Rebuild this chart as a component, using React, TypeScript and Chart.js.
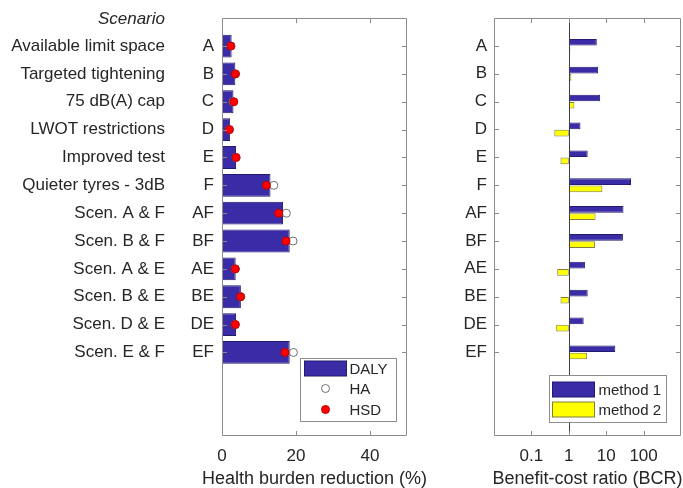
import React, { useEffect, useRef } from 'react';
import { Chart, registerables } from 'chart.js';

Chart.register(...registerables);

// ---------- data ----------
const codes = ['A', 'B', 'C', 'D', 'E', 'F', 'AF', 'BF', 'AE', 'BE', 'DE', 'EF'];
const names = [
  'Available limit space',
  'Targeted tightening',
  '75 dB(A) cap',
  'LWOT restrictions',
  'Improved test',
  'Quieter tyres - 3dB',
  'Scen. A & F',
  'Scen. B & F',
  'Scen. A & E',
  'Scen. B & E',
  'Scen. D & E',
  'Scen. E & F',
];
const headerLabel = 'Scenario';
const daly = [2.6, 3.6, 3.1, 2.2, 3.8, 13.1, 16.5, 18.3, 3.7, 5.1, 3.8, 18.3];
const ha = [2.4, 3.7, 3.0, 2.0, 3.8, 14.0, 17.4, 19.2, 3.6, 5.1, 3.6, 19.3];
const hsd = [2.4, 3.6, 3.2, 2.0, 3.8, 12.0, 15.3, 17.3, 3.6, 5.0, 3.6, 17.0];
const bcrMethod1 = [5.6, 6.1, 6.9, 2.05, 3.2, 46, 29, 28, 2.7, 3.2, 2.5, 17.5];
const bcrMethod2 = [1.1, 1.17, 1.41, 0.41, 0.6, 7.9, 5.2, 5.0, 0.49, 0.6, 0.46, 3.1];
const healthTicks = [0, 20, 40];
const bcrTicks = [0.1, 1, 10, 100];
const healthLabels = ['DALY', 'HA', 'HSD'];
const bcrLabels = ['method 1', 'method 2'];
const healthTitle = 'Health burden reduction (%)';
const bcrTitle = 'Benefit-cost ratio (BCR)';

// ---------- styles ----------
const FAMILY = '"Liberation Sans", Arial, Helvetica, sans-serif';
const TEXT = '#262626';
const AXIS = '#8c8c8c';
const BLUE = '#3a2ba6';
const BLUE_EDGE = '#241a6e';
const YELLOW = '#ffff00';
const YELLOW_EDGE = '#80803a';
const TICK_FONT = 17;
const TITLE_FONT = 18;
const LEGEND_FONT = 15;

const font = (size: number, style = '') => `${style} ${size}px ${FAMILY}`.trim();

function drawBoxAndTicks(chart: any) {
  const { ctx, chartArea: ca, scales } = chart;
  const xs = scales.x;
  const ys = scales.y;
  const tl = 5;
  ctx.save();
  ctx.strokeStyle = AXIS;
  ctx.lineWidth = 1;
  ctx.beginPath();
  ctx.rect(Math.round(ca.left) + 0.5, Math.round(ca.top) + 0.5, Math.round(ca.right - ca.left) - 1, Math.round(ca.bottom - ca.top) - 1);
  for (const t of xs.ticks) {
    const px = Math.round(xs.getPixelForValue(t.value)) + 0.5;
    if (px <= ca.left + 2 || px >= ca.right - 2) continue;
    ctx.moveTo(px, ca.bottom);
    ctx.lineTo(px, ca.bottom - tl);
    ctx.moveTo(px, ca.top);
    ctx.lineTo(px, ca.top + tl);
  }
  for (const t of ys.ticks) {
    const py = Math.round(ys.getPixelForValue(t.value)) + 0.5;
    ctx.moveTo(ca.left, py);
    ctx.lineTo(ca.left + tl, py);
    ctx.moveTo(ca.right, py);
    ctx.lineTo(ca.right - tl, py);
  }
  ctx.stroke();
  ctx.restore();
}

const boxPlugin = {
  id: 'matlabBox',
  afterDatasetsDraw(chart: any) {
    const ref = chart.options.plugins.matlabBox || {};
    const { ctx, chartArea: ca, scales } = chart;
    if (ref.unityLine) {
      const px = Math.round(scales.x.getPixelForValue(1)) + 0.5;
      ctx.save();
      ctx.strokeStyle = '#404040';
      ctx.lineWidth = 1;
      ctx.beginPath();
      ctx.moveTo(px, ca.top);
      ctx.lineTo(px, ca.bottom);
      ctx.stroke();
      ctx.restore();
    }
    drawBoxAndTicks(chart);
  },
  afterDraw(chart: any) {
    const ref = chart.options.plugins.matlabBox || {};
    if (!ref.title) return;
    const { ctx, chartArea: ca } = chart;
    ctx.save();
    ctx.fillStyle = TEXT;
    ctx.font = font(TITLE_FONT);
    ctx.textAlign = 'center';
    ctx.textBaseline = 'middle';
    ctx.fillText(ref.title, (ca.left + ca.right) / 2, ca.bottom + ref.titleOffset);
    ctx.restore();
  },
};

const namesPlugin = {
  id: 'scenarioNames',
  afterDraw(chart: any) {
    const opts = chart.options.plugins.scenarioNames;
    if (!opts || !opts.enabled) return;
    const { ctx, scales } = chart;
    const ys = scales.y;
    ctx.save();
    ctx.fillStyle = TEXT;
    ctx.textAlign = 'right';
    ctx.textBaseline = 'middle';
    ctx.font = font(TICK_FONT, 'italic');
    ctx.fillText(headerLabel, opts.x, ys.getPixelForValue(0) + 1);
    ctx.font = font(TICK_FONT);
    names.forEach((n, i) => {
      ctx.fillText(n, opts.x, ys.getPixelForValue(i + 1));
    });
    ctx.restore();
  },
};

const legendPlugin = {
  id: 'boxLegend',
  afterDraw(chart: any) {
    const opts = chart.options.plugins.boxLegend;
    if (!opts || !opts.enabled) return;
    const { ctx, chartArea: ca } = chart;
    const x0 = Math.round(ca.right - opts.dx) + 0.5;
    const y0 = Math.round(ca.bottom - opts.dy) + 0.5;
    ctx.save();
    ctx.fillStyle = '#ffffff';
    ctx.strokeStyle = AXIS;
    ctx.lineWidth = 1;
    ctx.fillRect(x0, y0, opts.w, opts.h);
    ctx.strokeRect(x0, y0, opts.w, opts.h);
    ctx.font = font(LEGEND_FONT);
    ctx.textAlign = 'left';
    ctx.textBaseline = 'middle';
    const datasets = chart.data.datasets;
    opts.items.forEach((it: any) => {
      const ds = datasets[it.ds];
      const cy = y0 + it.cy;
      if (it.kind === 'patch') {
        ctx.fillStyle = ds.backgroundColor;
        ctx.strokeStyle = ds.borderColor;
        ctx.fillRect(x0 + opts.px, cy - 7.5, opts.pw, 15);
        ctx.strokeRect(x0 + opts.px, cy - 7.5, opts.pw, 15);
      } else {
        ctx.beginPath();
        ctx.arc(x0 + opts.px + opts.pw / 2, cy, ds.pointRadius, 0, Math.PI * 2);
        ctx.fillStyle = ds.pointBackgroundColor;
        ctx.strokeStyle = ds.pointBorderColor;
        ctx.fill();
        ctx.stroke();
      }
      ctx.fillStyle = TEXT;
      ctx.fillText(ds.label, x0 + opts.tx, cy + 1);
    });
    ctx.restore();
  },
};

function baseScales() {
  return {
    y: {
      type: 'linear',
      min: 0,
      max: 15,
      reverse: true,
      offset: false,
      position: 'left',
      grid: { display: false, drawTicks: false, offset: false },
      border: { display: false },
      afterBuildTicks: (s: any) => {
        s.ticks = codes.map((_, i) => ({ value: i + 1 }));
      },
      ticks: {
        autoSkip: false,
        padding: 8,
        color: TEXT,
        font: { family: FAMILY, size: TICK_FONT },
        callback: (v: number) => codes[v - 1] ?? '',
      },
    },
    x: {
      position: 'bottom',
      offset: false,
      grid: { display: false, drawTicks: false },
      border: { display: false },
      ticks: {
        padding: 10,
        color: TEXT,
        maxRotation: 0,
        autoSkip: false,
        font: { family: FAMILY, size: TICK_FONT },
      },
      title: { display: false },
      afterFit: (s: any) => {
        s.height = 52;
      },
    },
  };
}

function leftConfig(): any {
  const scales: any = baseScales();
  scales.y.afterFit = (s: any) => {
    s.width = 222;
  };
  scales.x.type = 'linear';
  scales.x.min = 0;
  scales.x.max = 50;
  scales.x.afterBuildTicks = (s: any) => {
    s.ticks = healthTicks.map((v) => ({ value: v }));
  };
  scales.x.ticks.callback = (v: number) => String(v);
  return {
    type: 'bar',
    data: {
      datasets: [
        {
          type: 'bar',
          label: healthLabels[0],
          data: daly.map((v, i) => ({ x: v, y: i + 1 })),
          backgroundColor: BLUE,
          borderColor: BLUE_EDGE,
          borderWidth: 1,
          categoryPercentage: 1,
          barPercentage: 0.82,
          order: 3,
        },
        {
          type: 'scatter',
          label: healthLabels[1],
          data: ha.map((v, i) => ({ x: v, y: i + 1 })),
          pointRadius: 4,
          pointBackgroundColor: '#ffffff',
          pointBorderColor: '#707070',
          pointBorderWidth: 1,
          showLine: false,
          order: 2,
        },
        {
          type: 'scatter',
          label: healthLabels[2],
          data: hsd.map((v, i) => ({ x: v, y: i + 1 })),
          pointRadius: 4,
          pointBackgroundColor: '#ff0000',
          pointBorderColor: '#c00000',
          pointBorderWidth: 1,
          showLine: false,
          order: 1,
        },
      ],
    },
    options: {
      indexAxis: 'y',
      responsive: false,
      animation: false,
      layout: { padding: { left: 0, right: 33, top: 17, bottom: 0 } },
      scales,
      plugins: {
        legend: { display: false },
        tooltip: { enabled: false },
        scenarioNames: { enabled: true, x: 165 },
        boxLegend: {
          enabled: true,
          dx: 107,
          dy: 78,
          w: 96,
          h: 63,
          px: 4,
          pw: 42,
          tx: 49,
          items: [
            { ds: 0, kind: 'patch', cy: 10 },
            { ds: 1, kind: 'marker', cy: 30 },
            { ds: 2, kind: 'marker', cy: 51 },
          ],
        },
        matlabBox: { title: healthTitle, titleOffset: 43 },
      },
    },
    plugins: [boxPlugin, namesPlugin, legendPlugin],
  };
}

function rightConfig(): any {
  const scales: any = baseScales();
  scales.y.afterFit = (s: any) => {
    s.width = 54;
  };
  scales.y.ticks.padding = 7;
  scales.x.type = 'logarithmic';
  scales.x.min = 0.01;
  scales.x.max = 1000;
  scales.x.afterBuildTicks = (s: any) => {
    s.ticks = bcrTicks.map((v) => ({ value: v }));
  };
  scales.x.ticks.callback = (v: number) => String(v);
  return {
    type: 'bar',
    data: {
      datasets: [
        {
          label: bcrLabels[0],
          data: bcrMethod1.map((v, i) => ({ x: [1, v], y: i + 1 })),
          backgroundColor: BLUE,
          borderColor: BLUE_EDGE,
          borderWidth: 1,
          categoryPercentage: 0.52,
          barPercentage: 0.92,
          borderSkipped: false,
        },
        {
          label: bcrLabels[1],
          data: bcrMethod2.map((v, i) => ({ x: [1, v], y: i + 1 })),
          backgroundColor: YELLOW,
          borderColor: YELLOW_EDGE,
          borderWidth: 1,
          categoryPercentage: 0.52,
          barPercentage: 0.92,
          borderSkipped: false,
        },
      ],
    },
    options: {
      indexAxis: 'y',
      responsive: false,
      animation: false,
      layout: { padding: { left: 0, right: 2, top: 18, bottom: 0 } },
      scales,
      plugins: {
        legend: { display: false },
        tooltip: { enabled: false },
        boxLegend: {
          enabled: true,
          dx: 132,
          dy: 61,
          w: 117,
          h: 47,
          px: 3,
          pw: 42,
          tx: 49,
          items: [
            { ds: 0, kind: 'patch', cy: 14 },
            { ds: 1, kind: 'patch', cy: 34 },
          ],
        },
        matlabBox: { unityLine: true, title: bcrTitle, titleOffset: 43 },
      },
    },
    plugins: [boxPlugin, legendPlugin],
  };
}

export default function App() {
  const leftRef = useRef<HTMLCanvasElement>(null);
  const rightRef = useRef<HTMLCanvasElement>(null);
  useEffect(() => {
    const c1 = new Chart(leftRef.current as HTMLCanvasElement, leftConfig());
    const c2 = new Chart(rightRef.current as HTMLCanvasElement, rightConfig());
    return () => {
      c1.destroy();
      c2.destroy();
    };
  }, []);
  return (
    <div style={{ position: 'absolute', left: 0, top: 0, width: 683, height: 488, background: '#ffffff' }}>
      <canvas ref={leftRef} width={440} height={488} style={{ position: 'absolute', left: 0, top: 0 }} />
      <canvas ref={rightRef} width={243} height={488} style={{ position: 'absolute', left: 440, top: 0 }} />
    </div>
  );
}
